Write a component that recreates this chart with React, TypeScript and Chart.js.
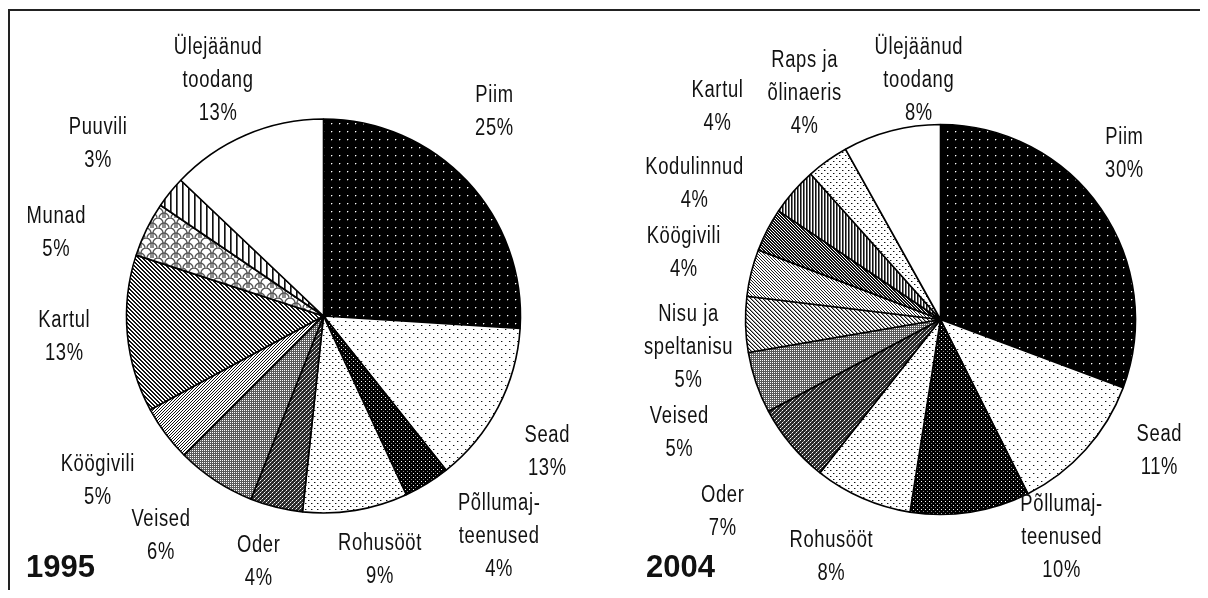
import React, { useEffect, useRef } from "react";
import { Chart, registerables } from "chart.js";

Chart.register(...registerables);

// ---------- DATA ----------
const CATEGORIES_1995 = ["Piim", "Sead", "Põllumajteenused", "Rohusööt", "Oder", "Veised", "Köögivili", "Kartul", "Munad", "Puuvili", "Ülejäänud toodang"];
const VALUES_1995 = [26.0, 13.3, 3.8, 8.6, 4.3, 6.5, 4.6, 12.9, 4.5, 2.6, 12.9];
const LABELS_1995 = [
  ["Piim", "25%"], ["Sead", "13%"], ["Põllumaj-", "teenused", "4%"], ["Rohusööt", "9%"], ["Oder", "4%"],
  ["Veised", "6%"], ["Köögivili", "5%"], ["Kartul", "13%"], ["Munad", "5%"], ["Puuvili", "3%"], ["Ülejäänud", "toodang", "13%"],
];

const CATEGORIES_2004 = ["Piim", "Sead", "Põllumajteenused", "Rohusööt", "Oder", "Veised", "Nisu ja speltanisu", "Köögivili", "Kodulinnud", "Kartul", "Raps ja õlinaeris", "Ülejäänud toodang"];
const VALUES_2004 = [30.7, 11.9, 9.9, 8.1, 6.6, 5.1, 4.6, 3.9, 3.6, 4.0, 3.5, 8.1];
const LABELS_2004 = [
  ["Piim", "30%"], ["Sead", "11%"], ["Põllumaj-", "teenused", "10%"], ["Rohusööt", "8%"], ["Oder", "7%"], ["Veised", "5%"],
  ["Nisu ja", "speltanisu", "5%"], ["Köögivili", "4%"], ["Kodulinnud", "4%"], ["Kartul", "4%"], ["Raps ja", "õlinaeris", "4%"], ["Ülejäänud", "toodang", "8%"],
];

// ---------- STYLE / LAYOUT ----------
const PATTERNS_1995 = ["blackDots", "sparseDots", "darkCross", "fineDots", "darkDiamond", "greyDiamond", "slash", "backslash", "scales", "vertical", "white"];
const PATTERNS_2004 = ["blackDots", "sparseDots", "darkCross", "fineDots", "darkDiamond", "greyDiamond", "backslashThin", "backslashLight", "backslashDark", "verticalDark", "fineDots", "white"];

const NUDGE_1995 = [-6.8, 3.8, -6.9, -3.7, 0.9, 3.1, 0.5, 0.6, -8.9, -1.5, -0.9];
const DIST_1995 = [1.35, 1.33, 1.43, 1.27, 1.29, 1.39, 1.42, 1.32, 1.42, 1.44, 1.31];
const NUDGE_2004 = [-7.3, -10.9, -20.2, 1.1, -1.5, -4.6, -4.9, 0.7, 1.5, 2.6, 4.4, 9.4];
const DIST_2004 = [1.27, 1.31, 1.28, 1.34, 1.49, 1.46, 1.30, 1.36, 1.44, 1.58, 1.35, 1.23];

const W = 1200;
const H = 582;
const FONT_SIZE = 23;
const LINE_H = 33;
const NARROW = 0.8;
const LETTER_SPACING = 0.8;

function grid(w: number, h: number, bg: string, fn: (x: number, y: number) => string | null) {
  const cv = document.createElement("canvas");
  cv.width = w;
  cv.height = h;
  const c = cv.getContext("2d")!;
  c.fillStyle = bg;
  c.fillRect(0, 0, w, h);
  for (let y = 0; y < h; y++) {
    for (let x = 0; x < w; x++) {
      const col = fn(x, y);
      if (col) {
        c.fillStyle = col;
        c.fillRect(x, y, 1, 1);
      }
    }
  }
  return c.createPattern(cv, "repeat")!;
}

function scalesPattern() {
  const cv = document.createElement("canvas");
  cv.width = 12;
  cv.height = 10;
  const c = cv.getContext("2d")!;
  c.fillStyle = "#fff";
  c.fillRect(0, 0, 12, 10);
  c.strokeStyle = "#555";
  c.lineWidth = 1.3;
  c.beginPath();
  c.arc(6, 5, 5, Math.PI, 2 * Math.PI);
  c.stroke();
  c.beginPath();
  c.arc(0, 10, 5, Math.PI * 1.5, 2 * Math.PI);
  c.stroke();
  c.beginPath();
  c.arc(12, 10, 5, Math.PI, Math.PI * 1.5);
  c.stroke();
  c.beginPath();
  c.moveTo(1, 5);
  c.lineTo(1, 10);
  c.moveTo(11, 5);
  c.lineTo(11, 10);
  c.stroke();
  return c.createPattern(cv, "repeat")!;
}

function makePattern(name: string): CanvasPattern | string {
  switch (name) {
    case "blackDots":
      return grid(8, 8, "#000", (x, y) => (x === 3 && y === 3 ? "#fff" : (x === 4 && y === 3) || (x === 3 && y === 4) ? "#555" : null));
    case "sparseDots":
      return grid(8, 8, "#fff", (x, y) => ((x === 1 && y === 1) || (x === 5 && y === 5) ? "#111" : (x === 2 && y === 1) || (x === 6 && y === 5) ? "#aaa" : null));
    case "fineDots":
      return grid(6, 6, "#fff", (x, y) => ((x === 0 && y === 0) || (x === 3 && y === 3) ? "#111" : (x === 1 && y === 0) || (x === 4 && y === 3) ? "#999" : null));
    case "darkCross":
      return grid(4, 4, "#000", (x, y) => (x === 1 && y === 1 ? "#fff" : x === 3 && y === 3 ? "#888" : null));
    case "darkDiamond":
      return grid(4, 4, "#2a2a2a", (x, y) => ((x === 0 && y === 0) || (x === 2 && y === 2) ? "#fff" : (x === 1 && y === 3) || (x === 3 && y === 1) ? "#999" : null));
    case "greyDiamond":
      return grid(4, 4, "#5a5a5a", (x, y) => ((x + y) % 2 === 0 && x % 2 === 0 ? "#fff" : null));
    case "slash":
      return grid(3, 3, "#fff", (x, y) => ((x + y) % 3 === 0 ? "#111" : null));
    case "backslash":
      return grid(4, 4, "#fff", (x, y) => (((x - y + 8) % 4) < 2 ? "#111" : null));
    case "backslashThin":
      return grid(4, 4, "#fff", (x, y) => (((x - y + 8) % 4) === 0 ? "#111" : ((x - y + 8) % 4) === 1 ? "#999" : null));
    case "backslashLight":
      return grid(3, 3, "#fff", (x, y) => (((x - y + 6) % 3) === 0 ? "#222" : null));
    case "backslashDark":
      return grid(3, 3, "#fff", (x, y) => (((x - y + 6) % 3) < 2 ? "#111" : null));
    case "verticalDark":
      return grid(3, 3, "#fff", (x) => (x === 0 ? "#111" : x === 1 ? "#777" : null));
    case "scales":
      return scalesPattern();
    case "vertical":
      return grid(6, 1, "#fff", (x) => (x === 0 ? "#111" : x === 1 ? "#666" : null));
    default:
      return "#fff";
  }
}

type PieProps = {
  values: number[];
  categories: string[];
  lines: string[][];
  patterns: string[];
  nudge: number[];
  dist: number[];
  center: [number, number];
  radius: number;
};

function PieCanvas({ values, categories, lines, patterns, nudge, dist, center, radius }: PieProps) {
  const ref = useRef<HTMLCanvasElement | null>(null);
  useEffect(() => {
    if (!ref.current) return;
    const labelPlugin = {
      id: "outLabels",
      afterDatasetsDraw(chart: any) {
        const ctx = chart.ctx as CanvasRenderingContext2D;
        const meta = chart.getDatasetMeta(0);
        ctx.save();
        ctx.font = `${FONT_SIZE}px 'Liberation Sans', Arial, sans-serif`;
        (ctx as any).letterSpacing = `${LETTER_SPACING}px`;
        ctx.fillStyle = "#111";
        ctx.textAlign = "center";
        ctx.textBaseline = "middle";
        meta.data.forEach((arc: any, i: number) => {
          const p = arc.getProps(["x", "y", "startAngle", "endAngle", "outerRadius"], true);
          const a = (p.startAngle + p.endAngle) / 2 + (nudge[i] * Math.PI) / 180;
          const r = p.outerRadius * dist[i];
          const lx = p.x + Math.cos(a) * r;
          const ly = p.y + Math.sin(a) * r;
          const ls = lines[i];
          const n = ls.length;
          ls.forEach((t, j) => {
            const y = ly + (j - (n - 1) / 2) * LINE_H;
            ctx.save();
            ctx.translate(lx, y);
            ctx.scale(NARROW, 1);
            ctx.fillText(t, 0, 0);
            ctx.restore();
          });
        });
        ctx.restore();
      },
    };
    const half = 250;
    const chart = new Chart(ref.current, {
      type: "pie",
      data: {
        labels: categories,
        datasets: [
          {
            data: values,
            backgroundColor: patterns.map(makePattern) as any,
            borderColor: "#000",
            borderWidth: 1.6,
          },
        ],
      },
      options: {
        responsive: false,
        animation: false,
        devicePixelRatio: 1,
        events: [],
        radius: radius,
        layout: {
          padding: {
            left: center[0] - half,
            right: W - center[0] - half,
            top: center[1] - half,
            bottom: H - center[1] - half,
          },
        },
        plugins: {
          legend: { display: false },
          tooltip: { enabled: false },
          title: { display: false },
        },
      } as any,
      plugins: [labelPlugin],
    });
    return () => chart.destroy();
  }, []);
  return <canvas ref={ref} width={W} height={H} style={{ position: "absolute", left: 0, top: 0, width: W, height: H, display: "block" }} />;
}

const yearStyle: React.CSSProperties = {
  position: "absolute",
  top: 543,
  fontFamily: "'Liberation Sans', Arial, sans-serif",
  fontWeight: "bold",
  fontSize: 31,
  lineHeight: "31px",
  color: "#111",
};

export default function App() {
  useEffect(() => {
    document.documentElement.style.overflow = "hidden";
    document.body.style.overflow = "hidden";
  }, []);
  return (
    <div style={{ position: "relative", width: W, height: H, background: "#fff" }}>
      <div style={{ position: "absolute", left: 0, top: 1, width: W, height: 2, background: "#222" }} />
      <div style={{ position: "absolute", left: 0, top: 1, width: 2, height: H + 7, background: "#222" }} />
      <PieCanvas
        values={VALUES_1995}
        categories={CATEGORIES_1995}
        lines={LABELS_1995}
        patterns={PATTERNS_1995}
        nudge={NUDGE_1995}
        dist={DIST_1995}
        center={[315.5, 308]}
        radius={197}
      />
      <PieCanvas
        values={VALUES_2004}
        categories={CATEGORIES_2004}
        lines={LABELS_2004}
        patterns={PATTERNS_2004}
        nudge={NUDGE_2004}
        dist={DIST_2004}
        center={[932.5, 311.5]}
        radius={195}
      />
      <div style={{ ...yearStyle, left: 18 }}>1995</div>
      <div style={{ ...yearStyle, left: 638 }}>2004</div>
    </div>
  );
}
